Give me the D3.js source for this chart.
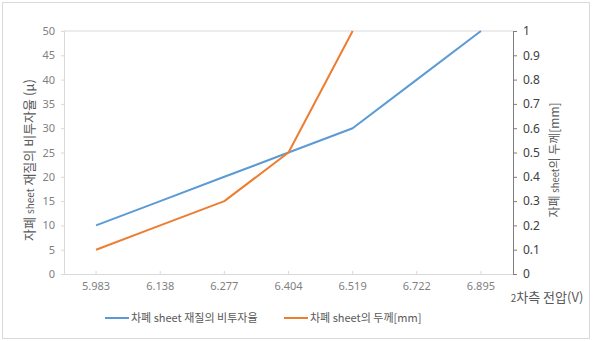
<!DOCTYPE html>
<html><head><meta charset="utf-8">
<script src="https://cdn.jsdelivr.net/npm/d3@7"></script>
<style>
html,body{margin:0;padding:0;background:#fff;}
svg{display:block;font-family:"Noto Sans CJK KR","Noto Sans",sans-serif;}
</style></head>
<body>
<script>
const categories = ["5.983","6.138","6.277","6.404","6.519","6.722","6.895"];
const permeability = [10,15,20,25,30,40,50];
const thickness = [0.1,0.2,0.3,0.5,1.0,null,null];
const leftTicks = [0,5,10,15,20,25,30,35,40,45,50];
const rightTicks = [0,0.1,0.2,0.3,0.4,0.5,0.6,0.7,0.8,0.9,1];

const W=593,H=341;
const svg=d3.select("body").append("svg").attr("width",W).attr("height",H);
svg.append("rect").attr("x",2.5).attr("y",2.5).attr("width",W-6).attr("height",H-5)
  .attr("fill","#fff").attr("stroke","#d9d9d9");

const x=d3.scaleBand().domain(categories).range([64,513]);
const yL=d3.scaleLinear().domain([0,50]).range([274,31]);
const yR=d3.scaleLinear().domain([0,1]).range([274,31]);
const cx=c=>x(c)+x.bandwidth()/2;

svg.append("line").attr("x1",64).attr("x2",513).attr("y1",yL(50)).attr("y2",yL(50)).attr("stroke","#d9d9d9");

const gL=svg.append("g").attr("transform","translate(64,0)")
  .call(d3.axisLeft(yL).tickValues(leftTicks).tickSize(3).tickPadding(6));
gL.select(".domain").attr("stroke","#d9d9d9");
gL.selectAll(".tick line").attr("stroke","#d9d9d9");
gL.selectAll("text").attr("fill","#7f7f7f").style("font-size","11px").style("font-family","'Noto Sans',sans-serif");

const gB=svg.append("g").attr("transform","translate(0,274)")
  .call(d3.axisBottom(x).tickSize(-3).tickPadding(8).tickSizeOuter(0));
gB.select(".domain").attr("stroke","#d9d9d9");
gB.selectAll(".tick line").attr("stroke","#d9d9d9");
gB.selectAll("text").attr("fill","#7f7f7f").style("font-size","11px").style("font-family","'Noto Sans',sans-serif");

const gR=svg.append("g").attr("transform","translate(513,0)")
  .call(d3.axisRight(yR).tickValues(rightTicks).tickSize(4).tickPadding(6).tickFormat(d3.format("~g")));
gR.select(".domain").attr("stroke","#7f7f7f");
gR.selectAll(".tick line").attr("stroke","#7f7f7f");
gR.selectAll("text").attr("fill","#404040").style("font-size","12px").style("font-family","'Noto Sans',sans-serif");

const lineL=d3.line().x((d,i)=>cx(categories[i])).y(d=>yL(d));
const lineR=d3.line().defined(d=>d!=null).x((d,i)=>cx(categories[i])).y(d=>yR(d));
svg.append("path").datum(permeability).attr("d",lineL).attr("fill","none")
  .attr("stroke","#5b9bd5").attr("stroke-width",2).attr("stroke-linejoin","round");
svg.append("path").datum(thickness).attr("d",lineR).attr("fill","none")
  .attr("stroke","#ed7d31").attr("stroke-width",2).attr("stroke-linejoin","round");

function title(g, parts){
  const t=g.append("text").attr("fill","#595959").attr("text-anchor","middle");
  parts.forEach(p=>t.append("tspan").text(p[0]).style("font-size",p[1]+"px"));
  return t;
}
title(svg.append("g").attr("transform","translate(34,160) rotate(-90)"),
  [["자폐 ",13],["sheet",10],[" 재질의 비투자율 (μ)",13]]);
title(svg.append("g").attr("transform","translate(559,160) rotate(-90)"),
  [["자폐 ",12],["sheet",9.5],["의 두께[mm]",12]]);
title(svg.append("g").attr("transform","translate(547,302)"),
  [["2",10],["차측 전압(V)",13]]);

const leg=[["차폐 sheet 재질의 비투자율","#5b9bd5",105],["차폐 sheet의 두께[mm]","#ed7d31",284]];
leg.forEach(l=>{
  svg.append("line").attr("x1",l[2]).attr("x2",l[2]+24).attr("y1",318).attr("y2",318)
    .attr("stroke",l[1]).attr("stroke-width",2);
  svg.append("text").attr("x",l[2]+26).attr("y",322).attr("fill","#595959")
    .style("font-size","11px").text(l[0]);
});
</script>
</body></html>
